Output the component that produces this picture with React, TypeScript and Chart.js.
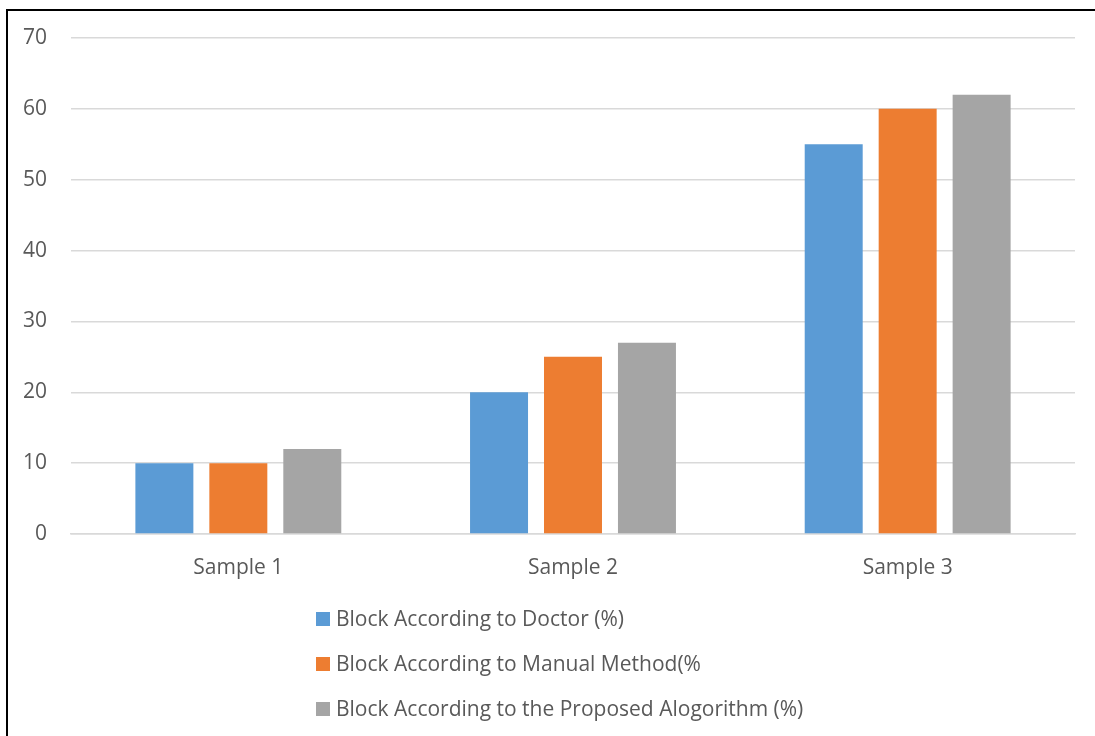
import React, { useEffect, useRef } from "react";
import { Chart, registerables } from "chart.js";

Chart.register(...registerables);

const categories = ["Sample 1", "Sample 2", "Sample 3"];
const seriesNames = [
  "Block According to Doctor (%)",
  "Block According to Manual Method(%",
  "Block According to the Proposed Alogorithm (%)",
];
const doctorValues = [10, 20, 55];
const manualValues = [10, 25, 60];
const proposedValues = [12, 27, 62];
const seriesColors = ["#5B9BD5", "#ED7D31", "#A5A5A5"];
const yTicks = [0, 10, 20, 30, 40, 50, 60, 70];

const FONT = "'Open Sans', Lato, sans-serif";
const FONT_SIZE = 21;
const TEXT_COLOR = "#595959";

// Vertical legend stacked under the plot, one entry per row.
const stackedLegend = {
  id: "stackedLegend",
  afterDraw(chart: any) {
    const ctx = chart.ctx;
    const rowTop = 619;
    const rowGap = 45;
    const boxX = 316;
    const boxSize = 14;
    ctx.save();
    ctx.font = `${FONT_SIZE}px ${FONT}`;
    ctx.textBaseline = "middle";
    ctx.textAlign = "left";
    chart.data.datasets.forEach((ds: any, i: number) => {
      const y = rowTop + i * rowGap;
      ctx.fillStyle = ds.backgroundColor;
      ctx.fillRect(boxX, y - boxSize / 2, boxSize, boxSize);
      ctx.fillStyle = TEXT_COLOR;
      ctx.fillText(ds.label, boxX + boxSize + 6, y + 1);
    });
    ctx.restore();
  },
};

export default function App() {
  const canvasRef = useRef<HTMLCanvasElement | null>(null);

  useEffect(() => {
    const canvas = canvasRef.current;
    if (!canvas) return;
    const seriesValues = [doctorValues, manualValues, proposedValues];
    const chart = new Chart(canvas, {
      type: "bar",
      data: {
        labels: categories,
        datasets: seriesNames.map((name, i) => ({
          label: name,
          data: seriesValues[i],
          backgroundColor: seriesColors[i],
          borderWidth: 0,
          categoryPercentage: 0.663,
          barPercentage: 0.784,
        })),
      },
      options: {
        responsive: false,
        animation: false,
        layout: { padding: { left: 0, right: 20, top: 38, bottom: 152 } },
        plugins: {
          legend: { display: false },
          tooltip: { enabled: false },
        },
        scales: {
          x: {
            grid: { display: false, drawTicks: false },
            border: { display: true, color: "#d9d9d9", width: 1.5 },
            ticks: {
              color: TEXT_COLOR,
              font: { family: FONT, size: FONT_SIZE },
              padding: 21,
            },
            afterFit(scale: any) {
              scale.height = 50;
            },
          },
          y: {
            min: 0,
            max: 70,
            afterBuildTicks(scale: any) {
              scale.ticks = yTicks.map((v) => ({ value: v }));
            },
            grid: { color: "#d9d9d9", lineWidth: 1.5, drawTicks: false },
            border: { display: false },
            ticks: {
              color: TEXT_COLOR,
              font: { family: FONT, size: FONT_SIZE },
              padding: 24,
            },
            afterFit(scale: any) {
              scale.width = 71;
            },
          },
        },
      },
      plugins: [stackedLegend],
    });
    return () => chart.destroy();
  }, []);

  return (
    <div
      style={{
        position: "fixed",
        left: 0,
        top: 0,
        width: 1095,
        height: 736,
        overflow: "hidden",
        background: "#fff",
      }}
    >
      <div
        style={{
          position: "absolute",
          left: 6,
          top: 9,
          width: 1200,
          height: 900,
          borderLeft: "2px solid #000",
          borderTop: "2px solid #000",
        }}
      />
      <canvas
        ref={canvasRef}
        width={1095}
        height={736}
        style={{ position: "absolute", left: 0, top: 0 }}
      />
    </div>
  );
}
